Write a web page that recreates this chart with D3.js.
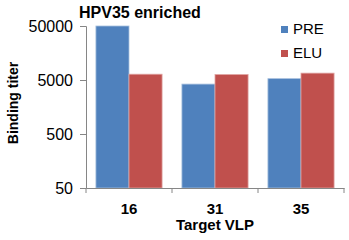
<!DOCTYPE html>
<html>
<head>
<meta charset="utf-8">
<script src="https://cdn.jsdelivr.net/npm/d3@7"></script>
<style>
  body { margin: 0; background: #fff; }
  text { font-family: "Liberation Sans", Arial, sans-serif; }
</style>
</head>
<body>
<div id="chart"></div>
<script>
// data
var categories = ["16", "31", "35"];
var seriesNames = ["PRE", "ELU"];
var preValues = [50000, 4200, 5300];
var eluValues = [6400, 6300, 6700];
var yTicks = [50, 500, 5000, 50000];
var colors = ["#4f81bd", "#c0504d"];
var edgeColors = ["#a7c0de", "#e0a3a1"];

var width = 349, height = 240;
var margin = { left: 86, right: 5, top: 26, bottom: 52 };

var svg = d3.select("#chart").append("svg")
  .attr("width", width).attr("height", height);

var x = d3.scaleBand().domain(categories)
  .range([margin.left, width - margin.right]);
var x1 = d3.scaleBand().domain(seriesNames)
  .range([0, x.bandwidth()]).paddingOuter(0.3);
var y = d3.scaleLog().domain([50, 50000])
  .range([height - margin.bottom, margin.top]);

var rows = categories.map(function (c, i) {
  return { cat: c, vals: [preValues[i], eluValues[i]] };
});

// bars
var g = svg.append("g");
rows.forEach(function (r) {
  r.vals.forEach(function (v, k) {
    g.append("rect")
      .attr("x", x(r.cat) + x1(seriesNames[k]))
      .attr("y", y(v))
      .attr("width", x1.bandwidth())
      .attr("height", y(50) - y(v))
      .attr("fill", colors[k])
      .attr("stroke", edgeColors[k])
      .attr("stroke-width", 0.8);
  });
});

// y axis, with minor log ticks
var minor = [];
for (var d = 50; d < 50000; d *= 10) {
  for (var m = 2; m <= 9; m++) minor.push(d * m);
}
var yAxisG = svg.append("g").attr("transform", "translate(" + margin.left + ",0)");
yAxisG.call(d3.axisLeft(y).tickValues(minor).tickSize(3).tickFormat(""));
yAxisG.call(d3.axisLeft(y).tickValues(yTicks).tickSize(6).tickFormat(d3.format("d")).tickPadding(7));
yAxisG.selectAll("path, line").attr("stroke", "#868686");
yAxisG.selectAll("text").attr("font-size", 16).attr("fill", "#000");

// x axis
var xAxisG = svg.append("g").attr("transform", "translate(0," + (height - margin.bottom) + ")");
xAxisG.call(d3.axisBottom(x).tickSize(0).tickPadding(15));
xAxisG.selectAll("path").attr("stroke", "#868686");
xAxisG.selectAll("text").attr("font-size", 15).attr("font-weight", "bold").attr("fill", "#000");
// tick marks at band edges
var edges = categories.map(function (c) { return x(c); }).concat([x.range()[1]]);
xAxisG.selectAll("line.edge").data(edges).enter().append("line")
  .attr("class", "edge")
  .attr("x1", function (e) { return e; }).attr("x2", function (e) { return e; })
  .attr("y1", 0).attr("y2", 5)
  .attr("stroke", "#868686");

// titles
svg.append("text").attr("x", 79).attr("y", 18)
  .attr("font-size", 16).attr("font-weight", "bold").text("HPV35 enriched");

svg.append("text")
  .attr("transform", "translate(18," + 103 + ") rotate(-90)")
  .attr("text-anchor", "middle")
  .attr("font-size", 14).attr("font-weight", "bold").text("Binding titer");

svg.append("text").attr("x", 215).attr("y", 230)
  .attr("text-anchor", "middle")
  .attr("font-size", 15).attr("font-weight", "bold").text("Target VLP");

// legend
var leg = svg.append("g");
seriesNames.forEach(function (s, k) {
  leg.append("rect").attr("x", 281).attr("y", 26 + k * 24)
    .attr("width", 7).attr("height", 7).attr("fill", colors[k]);
  leg.append("text").attr("x", 293).attr("y", 34 + k * 24)
    .attr("font-size", 15).text(s);
});
</script>
</body>
</html>
